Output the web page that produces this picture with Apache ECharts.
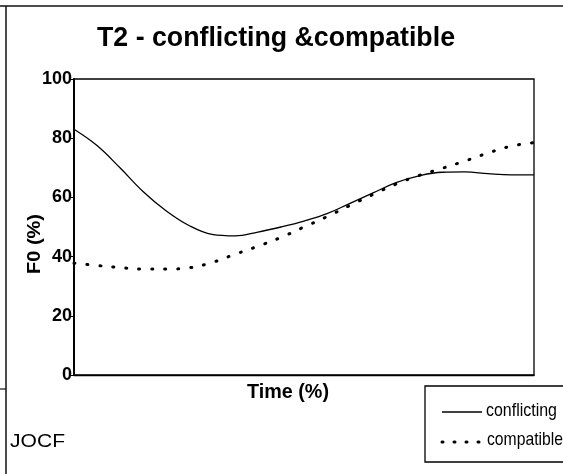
<!DOCTYPE html>
<html>
<head>
<meta charset="utf-8">
<script src="https://cdn.jsdelivr.net/npm/echarts@6/dist/echarts.min.js"></script>
<style>
  html, body { margin: 0; padding: 0; background: #fff; }
  #chart { width: 563px; height: 474px; }
</style>
</head>
<body>
<div id="chart"></div>
<script>
// Normalised time (% of utterance) at which F0 was sampled
const timePct = [0, 5, 10, 15, 20, 25, 30, 35, 40, 45, 50, 55, 60, 65, 70, 75, 80, 85, 90, 95, 100];
// F0 (% of speaker range) for each condition
const conflicting = [83, 77.5, 70, 62, 55.5, 50.5, 47.5, 47, 48.3, 50, 52, 54.5, 58, 61.5, 65, 67.3, 68.5, 68.6, 68, 67.6, 67.6];
const compatible  = [37.8, 37, 36.3, 35.8, 35.8, 36.2, 38, 40.8, 43.5, 46.5, 50, 53.5, 57.3, 61, 64.5, 67.4, 69.8, 72.3, 75, 77.3, 78.5];
const seriesNames = ['conflicting', 'compatible'];
const yRange = [0, 100];
const yStep = 20;
const titleText = 'T2 - conflicting &compatible';
const xTitle = 'Time (%)';
const yTitle = 'F0 (%)';
const noteText = 'JOCF';

const FONT = '"Liberation Sans", Arial, sans-serif';
const measureCtx = document.createElement('canvas').getContext('2d');
// horizontal squeeze needed for a string to occupy a given width
function squeeze(text, weight, size, width) {
  measureCtx.font = weight + ' ' + size + 'px ' + FONT;
  return width / measureCtx.measureText(text).width;
}

function pairs(xs, ys) { return xs.map((x, i) => [x, ys[i]]); }

const grid = { left: 74, top: 79, width: 460, height: 296 };
const solidStyle = { color: '#000', width: 1.3, type: 'solid' };
const dotStyle = { color: '#000', width: 3, type: [1, 12], cap: 'round' };

function label(text, x, y, size, weight, width, align, rotation) {
  return {
    type: 'text', x: x, y: y, rotation: rotation || 0,
    scaleX: squeeze(text, weight, size, width),
    style: {
      text: text, fill: '#000', font: weight + ' ' + size + 'px ' + FONT,
      align: align, verticalAlign: 'middle'
    },
    silent: true
  };
}

const chart = echarts.init(document.getElementById('chart'), null, { renderer: 'canvas' });
chart.setOption({
  animation: false,
  backgroundColor: '#fff',
  grid: Object.assign({ show: true, borderColor: '#000', borderWidth: 1.3, containLabel: false }, grid),
  xAxis: {
    type: 'value', min: 0, max: 100,
    axisLine: { show: true, lineStyle: { color: '#000', width: 1.3 } },
    axisTick: { show: false }, axisLabel: { show: false }, splitLine: { show: false }
  },
  yAxis: {
    type: 'value', min: yRange[0], max: yRange[1], interval: yStep,
    axisLine: { show: true, lineStyle: { color: '#000', width: 2 } },
    axisTick: { show: true, length: 3, lineStyle: { color: '#000' } },
    axisLabel: { color: '#000', fontSize: 18, fontWeight: 'bold', fontFamily: FONT, margin: 2 },
    splitLine: { show: false }
  },
  series: [
    { name: seriesNames[0], type: 'line', smooth: 0.4, symbol: 'none',
      data: pairs(timePct, conflicting), lineStyle: solidStyle },
    { name: seriesNames[1], type: 'line', smooth: 0.4, symbol: 'none',
      data: pairs(timePct, compatible), lineStyle: dotStyle }
  ],
  graphic: [
    // page frame
    { type: 'line', shape: { x1: 0, y1: 6, x2: 563, y2: 6 }, style: { stroke: '#111', lineWidth: 1.5 }, silent: true },
    { type: 'line', shape: { x1: 6, y1: 6, x2: 6, y2: 474 }, style: { stroke: '#111', lineWidth: 1.5 }, silent: true },
    { type: 'line', shape: { x1: 0, y1: 389, x2: 6, y2: 389 }, style: { stroke: '#111', lineWidth: 1.2 }, silent: true },
    // titles
    label(titleText, 276, 38, 28, 'bold', 358, 'center'),
    label(xTitle, 288, 392, 20, 'bold', 82, 'center'),
    label(yTitle, 35, 244, 19, 'bold', 60, 'center', Math.PI / 2),
    label(noteText, 10, 442, 18, 'normal', 55, 'left'),
    // key
    { type: 'rect', shape: { x: 425, y: 386, width: 160, height: 76 },
      style: { fill: '#fff', stroke: '#000', lineWidth: 1.3 }, silent: true },
    { type: 'line', shape: { x1: 442, y1: 412, x2: 482, y2: 412 },
      style: { stroke: '#000', lineWidth: 1.3 }, silent: true },
    { type: 'line', shape: { x1: 442, y1: 442, x2: 482, y2: 442 },
      style: { stroke: '#000', lineWidth: 3, lineDash: [1, 11], lineCap: 'round' }, silent: true },
    label(seriesNames[0], 486, 411, 19, 'normal', 71, 'left'),
    label(seriesNames[1], 487, 440, 19, 'normal', 76, 'left')
  ]
});
</script>
</body>
</html>
